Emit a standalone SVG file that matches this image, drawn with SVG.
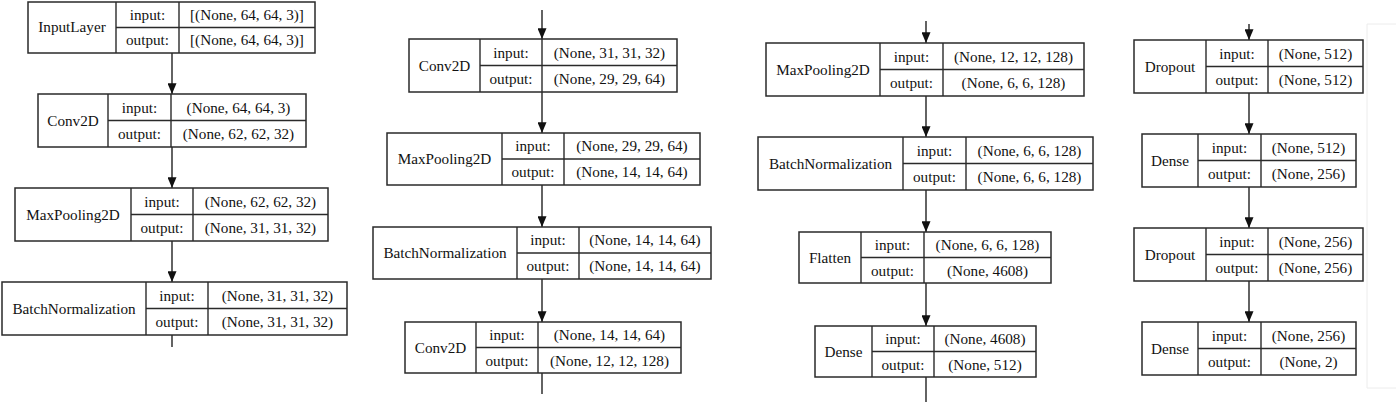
<svg xmlns="http://www.w3.org/2000/svg" width="1396" height="402" viewBox="0 0 1396 402">
<style>
.box rect{fill:#fff;stroke:#2a2a2a;stroke-width:1.5}
.box line{stroke:#2a2a2a;stroke-width:1.4}
text{font-family:'Liberation Serif','DejaVu Serif',serif;font-size:15.2px;fill:#111;text-anchor:middle}
.edge{stroke:#222;stroke-width:1.4;fill:none}
.frame{stroke:#ececec;stroke-width:1;fill:none}
</style>
<defs>
<marker id="ah" viewBox="0 0 12 10" refX="12" refY="5" markerWidth="11" markerHeight="9" markerUnits="userSpaceOnUse" orient="auto">
<path d="M0,0 L12,5 L0,10 Z" fill="#111"/>
</marker>
</defs>
<rect width="1396" height="402" fill="#fff"/>
<path class="frame" d="M1396,24 H1367 V388 H1396"/>
<g id="connectors">
<line class="edge" x1="172" y1="53" x2="172" y2="94" marker-end="url(#ah)"/>
<line class="edge" x1="172" y1="147" x2="172" y2="188" marker-end="url(#ah)"/>
<line class="edge" x1="172" y1="241" x2="172" y2="282" marker-end="url(#ah)"/>
<line class="edge" x1="172" y1="335" x2="172" y2="347"/>
<line class="edge" x1="542" y1="10" x2="542" y2="39" marker-end="url(#ah)"/>
<line class="edge" x1="542" y1="92" x2="542" y2="133" marker-end="url(#ah)"/>
<line class="edge" x1="542" y1="185" x2="542" y2="227" marker-end="url(#ah)"/>
<line class="edge" x1="542" y1="279" x2="542" y2="322" marker-end="url(#ah)"/>
<line class="edge" x1="542" y1="373" x2="542" y2="394"/>
<line class="edge" x1="926" y1="21" x2="926" y2="43" marker-end="url(#ah)"/>
<line class="edge" x1="926" y1="96" x2="926" y2="137" marker-end="url(#ah)"/>
<line class="edge" x1="926" y1="190" x2="926" y2="232" marker-end="url(#ah)"/>
<line class="edge" x1="926" y1="283" x2="926" y2="326" marker-end="url(#ah)"/>
<line class="edge" x1="926" y1="377" x2="926" y2="402"/>
<line class="edge" x1="1249" y1="24" x2="1249" y2="40" marker-end="url(#ah)"/>
<line class="edge" x1="1249" y1="93" x2="1249" y2="134" marker-end="url(#ah)"/>
<line class="edge" x1="1249" y1="187" x2="1249" y2="228" marker-end="url(#ah)"/>
<line class="edge" x1="1249" y1="281" x2="1249" y2="322" marker-end="url(#ah)"/>
</g>

<g id="c1_input" class="box">
<rect x="28" y="2" width="287" height="51"/>
<line x1="116" y1="2" x2="116" y2="53"/><line x1="179" y1="2" x2="179" y2="53"/><line x1="116" y1="27.5" x2="315" y2="27.5"/>
<text x="72" y="32">InputLayer</text>
<text x="147.5" y="19.5">input:</text><text x="147.5" y="45">output:</text>
<text x="247" y="19.5">[(None, 64, 64, 3)]</text><text x="247" y="45">[(None, 64, 64, 3)]</text>
</g>
<g id="c1_conv1" class="box">
<rect x="38" y="94" width="268" height="53"/>
<line x1="108" y1="94" x2="108" y2="147"/><line x1="171" y1="94" x2="171" y2="147"/><line x1="108" y1="120.5" x2="306" y2="120.5"/>
<text x="73" y="125.5">Conv2D</text>
<text x="139.5" y="112.5">input:</text><text x="139.5" y="139">output:</text>
<text x="238.5" y="112.5">(None, 64, 64, 3)</text><text x="238.5" y="139">(None, 62, 62, 32)</text>
</g>
<g id="c1_pool1" class="box">
<rect x="15" y="188" width="313" height="53"/>
<line x1="131" y1="188" x2="131" y2="241"/><line x1="193" y1="188" x2="193" y2="241"/><line x1="131" y1="214.5" x2="328" y2="214.5"/>
<text x="73" y="219.5">MaxPooling2D</text>
<text x="162" y="206.5">input:</text><text x="162" y="233">output:</text>
<text x="260.5" y="206.5">(None, 62, 62, 32)</text><text x="260.5" y="233">(None, 31, 31, 32)</text>
</g>
<g id="c1_bn1" class="box">
<rect x="2" y="282" width="345" height="53"/>
<line x1="146" y1="282" x2="146" y2="335"/><line x1="208" y1="282" x2="208" y2="335"/><line x1="146" y1="308.5" x2="347" y2="308.5"/>
<text x="74" y="313.5">BatchNormalization</text>
<text x="177" y="300.5">input:</text><text x="177" y="327">output:</text>
<text x="277.5" y="300.5">(None, 31, 31, 32)</text><text x="277.5" y="327">(None, 31, 31, 32)</text>
</g>

<g id="c2_conv2" class="box">
<rect x="409" y="39" width="268" height="53"/>
<line x1="480" y1="39" x2="480" y2="92"/><line x1="542" y1="39" x2="542" y2="92"/><line x1="480" y1="65.5" x2="677" y2="65.5"/>
<text x="444.5" y="70.5">Conv2D</text>
<text x="511" y="57.5">input:</text><text x="511" y="84">output:</text>
<text x="609.5" y="57.5">(None, 31, 31, 32)</text><text x="609.5" y="84">(None, 29, 29, 64)</text>
</g>
<g id="c2_pool2" class="box">
<rect x="387" y="133" width="313" height="52"/>
<line x1="502" y1="133" x2="502" y2="185"/><line x1="564" y1="133" x2="564" y2="185"/><line x1="502" y1="159" x2="700" y2="159"/>
<text x="444.5" y="164">MaxPooling2D</text>
<text x="533" y="151">input:</text><text x="533" y="177">output:</text>
<text x="632" y="151">(None, 29, 29, 64)</text><text x="632" y="177">(None, 14, 14, 64)</text>
</g>
<g id="c2_bn2" class="box">
<rect x="373" y="227" width="338" height="52"/>
<line x1="517" y1="227" x2="517" y2="279"/><line x1="579" y1="227" x2="579" y2="279"/><line x1="517" y1="253" x2="711" y2="253"/>
<text x="445" y="258">BatchNormalization</text>
<text x="548" y="245">input:</text><text x="548" y="271">output:</text>
<text x="645" y="245">(None, 14, 14, 64)</text><text x="645" y="271">(None, 14, 14, 64)</text>
</g>
<g id="c2_conv3" class="box">
<rect x="405" y="322" width="276" height="51"/>
<line x1="476" y1="322" x2="476" y2="373"/><line x1="538" y1="322" x2="538" y2="373"/><line x1="476" y1="347.5" x2="681" y2="347.5"/>
<text x="440.5" y="352.5">Conv2D</text>
<text x="507" y="340">input:</text><text x="507" y="365.5">output:</text>
<text x="609.5" y="340">(None, 14, 14, 64)</text><text x="609.5" y="365.5">(None, 12, 12, 128)</text>
</g>

<g id="c3_pool3" class="box">
<rect x="766" y="43" width="318" height="53"/>
<line x1="880" y1="43" x2="880" y2="96"/><line x1="943" y1="43" x2="943" y2="96"/><line x1="880" y1="69.5" x2="1084" y2="69.5"/>
<text x="823" y="74.5">MaxPooling2D</text>
<text x="911.5" y="61.5">input:</text><text x="911.5" y="88">output:</text>
<text x="1013.5" y="61.5">(None, 12, 12, 128)</text><text x="1013.5" y="88">(None, 6, 6, 128)</text>
</g>
<g id="c3_bn3" class="box">
<rect x="758" y="137" width="335" height="53"/>
<line x1="903" y1="137" x2="903" y2="190"/><line x1="966" y1="137" x2="966" y2="190"/><line x1="903" y1="163.5" x2="1093" y2="163.5"/>
<text x="830.5" y="168.5">BatchNormalization</text>
<text x="934.5" y="155.5">input:</text><text x="934.5" y="182">output:</text>
<text x="1029.5" y="155.5">(None, 6, 6, 128)</text><text x="1029.5" y="182">(None, 6, 6, 128)</text>
</g>
<g id="c3_flatten" class="box">
<rect x="799" y="232" width="252" height="51"/>
<line x1="861" y1="232" x2="861" y2="283"/><line x1="924" y1="232" x2="924" y2="283"/><line x1="861" y1="257.5" x2="1051" y2="257.5"/>
<text x="830" y="262.5">Flatten</text>
<text x="892.5" y="250">input:</text><text x="892.5" y="275.5">output:</text>
<text x="987.5" y="250">(None, 6, 6, 128)</text><text x="987.5" y="275.5">(None, 4608)</text>
</g>
<g id="c3_dense1" class="box">
<rect x="815" y="326" width="221" height="51"/>
<line x1="872" y1="326" x2="872" y2="377"/><line x1="934" y1="326" x2="934" y2="377"/><line x1="872" y1="351.5" x2="1036" y2="351.5"/>
<text x="843.5" y="356.5">Dense</text>
<text x="903" y="344">input:</text><text x="903" y="369.5">output:</text>
<text x="985" y="344">(None, 4608)</text><text x="985" y="369.5">(None, 512)</text>
</g>

<g id="c4_drop1" class="box">
<rect x="1134" y="40" width="229" height="53"/>
<line x1="1206" y1="40" x2="1206" y2="93"/><line x1="1268" y1="40" x2="1268" y2="93"/><line x1="1206" y1="66.5" x2="1363" y2="66.5"/>
<text x="1170" y="71.5">Dropout</text>
<text x="1237" y="58.5">input:</text><text x="1237" y="85">output:</text>
<text x="1315.5" y="58.5">(None, 512)</text><text x="1315.5" y="85">(None, 512)</text>
</g>
<g id="c4_dense2" class="box">
<rect x="1142" y="134" width="214" height="53"/>
<line x1="1198" y1="134" x2="1198" y2="187"/><line x1="1261" y1="134" x2="1261" y2="187"/><line x1="1198" y1="160.5" x2="1356" y2="160.5"/>
<text x="1170" y="165.5">Dense</text>
<text x="1229.5" y="152.5">input:</text><text x="1229.5" y="179">output:</text>
<text x="1308.5" y="152.5">(None, 512)</text><text x="1308.5" y="179">(None, 256)</text>
</g>
<g id="c4_drop2" class="box">
<rect x="1134" y="228" width="229" height="53"/>
<line x1="1206" y1="228" x2="1206" y2="281"/><line x1="1268" y1="228" x2="1268" y2="281"/><line x1="1206" y1="254.5" x2="1363" y2="254.5"/>
<text x="1170" y="259.5">Dropout</text>
<text x="1237" y="246.5">input:</text><text x="1237" y="273">output:</text>
<text x="1315.5" y="246.5">(None, 256)</text><text x="1315.5" y="273">(None, 256)</text>
</g>
<g id="c4_dense3" class="box">
<rect x="1142" y="322" width="214" height="53"/>
<line x1="1198" y1="322" x2="1198" y2="375"/><line x1="1261" y1="322" x2="1261" y2="375"/><line x1="1198" y1="348.5" x2="1356" y2="348.5"/>
<text x="1170" y="353.5">Dense</text>
<text x="1229.5" y="340.5">input:</text><text x="1229.5" y="367">output:</text>
<text x="1308.5" y="340.5">(None, 256)</text><text x="1308.5" y="367">(None, 2)</text>
</g>
</svg>
